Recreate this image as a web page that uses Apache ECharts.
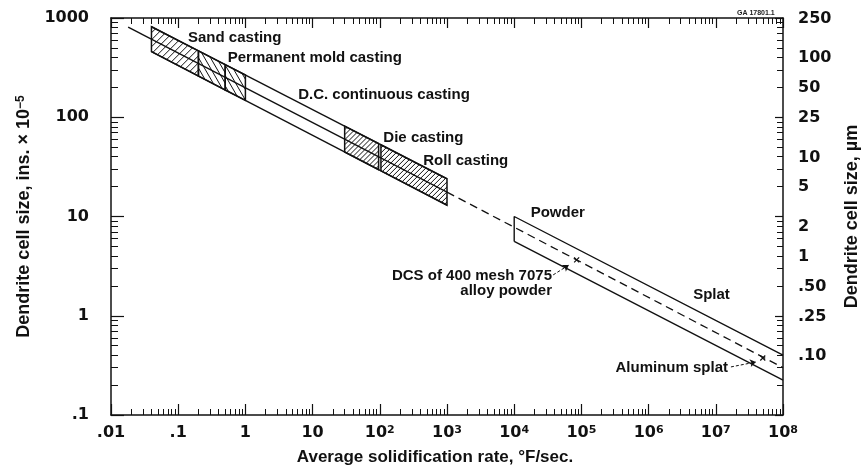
<!DOCTYPE html>
<html><head><meta charset="utf-8">
<script src="https://cdn.jsdelivr.net/npm/echarts@6/dist/echarts.min.js"></script>
<style>html,body{margin:0;padding:0;background:#fff}#c{width:862px;height:470px}</style>
</head><body><div id="c"></div>
<script>
// ---------------- data ----------------
const xTickValues = [0.01, 0.1, 1, 10, 100, 1000, 1e4, 1e5, 1e6, 1e7, 1e8];
const xTickLabels = ['.01', '.1', '1', '10', '10{s|2}', '10{s|3}', '10{s|4}', '10{s|5}', '10{s|6}', '10{s|7}', '10{s|8}'];
const yTickValues = [0.1, 1, 10, 100, 1000];
const yTickLabels = ['.1', '1', '10', '100', '1000'];
const umTickValues = [250, 100, 50, 25, 10, 5, 2, 1, 0.5, 0.25, 0.1];
const umTickLabels = ['250', '100', '50', '25', '10', '5', '2', '1', '.50', '.25', '.10'];

// band lines: [solidification rate °F/s, dendrite cell size ins x 1e-5]
const castTopX = [0.04, 1000];        const castTopY = [817, 24];
const castBotX = [0.04, 1000];        const castBotY = [458, 13];
const castMidX = [0.018, 1000];       const castMidY = [810, 17.6];
const trendDashX = [1000, 1e8];       const trendDashY = [17.6, 0.30];
const powderTopX = [1e4, 1e4, 1e8];   const powderTopY = [5.6, 10, 0.40];
const powderBotX = [1e4, 1e8];        const powderBotY = [5.6, 0.225];

// hatched process boxes
const boxNames = ['Sand casting', 'Permanent mold casting', 'Permanent mold casting', 'Die casting', 'Roll casting'];
const boxX0 = [0.04, 0.2, 0.5, 30, 104];
const boxX1 = [0.2, 0.5, 1, 96, 1000];
const boxTop0 = [817, 466, 339, 81.4, 52.8];
const boxTop1 = [466, 339, 266, 54.3, 24];
const boxBot0 = [458, 260, 188, 44.7, 28.8];
const boxBot1 = [260, 188, 148, 29.6, 13];

// measured points and leaders
const markX = [8.5e4, 5.0e7];     const markY = [3.65, 0.375];
const leaderX0 = [3.8e4, 1.68e7]; const leaderY0 = [2.58, 0.305];
const leaderX1 = [6.5e4, 3.96e7]; const leaderY1 = [3.24, 0.342];

// annotations
const noteLeftText = ['Sand casting', 'Permanent mold casting', 'D.C. continuous casting', 'Die casting', 'Roll casting', 'Powder', 'Splat'];
const noteLeftX = [0.14, 0.546, 6.1, 113, 443, 1.76e4, 4.6e6];
const noteLeftY = [628, 395, 167, 62, 36, 10.8, 1.62];
const noteRightText = ['DCS of 400 mesh 7075\nalloy powder', 'Aluminum splat'];
const noteRightX = [3.65e4, 1.52e7];
const noteRightY = [2.12, 0.296];

// minor tick values (2..9 per decade)
const minorX = [], minorY = [];
for (let e = -2; e < 8; e++) for (let k = 2; k <= 9; k++) minorX.push(+(k * Math.pow(10, e)).toPrecision(3));
for (let e = -1; e < 3; e++) for (let k = 2; k <= 9; k++) minorY.push(+(k * Math.pow(10, e)).toPrecision(3));

// ---------------- styles ----------------
const INK = '#111111';
const boxHatchAngle = [45, 120, 120, 45, 45];
const boxHatchStep = [7, 6, 6, 5, 5];
const tickFont = {fontFamily: 'DejaVu Sans', fontWeight: 'bold', fontSize: 16, color: INK};
const supStyle = {fontFamily: 'DejaVu Sans', fontWeight: 'bold', fontSize: 11, color: INK, verticalAlign: 'top'};
const noteFont = {fontFamily: 'Liberation Sans', fontWeight: 'bold', fontSize: 15, color: INK, opacity: 1};

function pair(xs, ys) { return xs.map((x, i) => [x, ys[i]]); }

function clipLine(p0, d, poly, c) {
  let t0 = -1e4, t1 = 1e4;
  for (let i = 0; i < poly.length; i++) {
    const a = poly[i], b = poly[(i + 1) % poly.length];
    let n = [-(b[1] - a[1]), b[0] - a[0]];
    if ((c[0] - a[0]) * n[0] + (c[1] - a[1]) * n[1] < 0) n = [-n[0], -n[1]];
    const num = (p0[0] - a[0]) * n[0] + (p0[1] - a[1]) * n[1];
    const den = d[0] * n[0] + d[1] * n[1];
    if (Math.abs(den) < 1e-9) { if (num < 0) return null; continue; }
    const t = -num / den;
    if (den > 0) t0 = Math.max(t0, t); else t1 = Math.min(t1, t);
  }
  if (t1 <= t0) return null;
  return [[p0[0] + d[0] * t0, p0[1] + d[1] * t0], [p0[0] + d[0] * t1, p0[1] + d[1] * t1]];
}

function renderBox(params, api) {
  const i = params.dataIndex;
  const tl = api.coord([api.value(0), api.value(2)]);
  const tr = api.coord([api.value(1), api.value(3)]);
  const br = api.coord([api.value(1), api.value(5)]);
  const bl = api.coord([api.value(0), api.value(4)]);
  const poly = [tl, tr, br, bl];
  const c = [(tl[0] + tr[0] + br[0] + bl[0]) / 4, (tl[1] + tr[1] + br[1] + bl[1]) / 4];
  const th = boxHatchAngle[i] * Math.PI / 180;
  const d = [Math.cos(th), -Math.sin(th)];
  const hs = boxHatchStep[i];
  const children = [];
  for (let k = -120; k <= 120; k++) {
    const seg = clipLine([c[0] + k * hs, c[1]], d, poly, c);
    if (!seg) continue;
    children.push({type: 'line', shape: {x1: seg[0][0], y1: seg[0][1], x2: seg[1][0], y2: seg[1][1]},
      style: {stroke: INK, lineWidth: 1}});
  }
  children.push({type: 'polygon', shape: {points: poly}, style: {fill: 'none', stroke: INK, lineWidth: 1.5}});
  return {type: 'group', children};
}

function findLabel(values, labels, v) {
  const i = values.findIndex(t => Math.abs(Math.log10(t) - Math.log10(v)) < 1e-6);
  return i >= 0 ? labels[i] : '';
}

const lineBase = {type: 'line', xAxisIndex: 0, yAxisIndex: 0, showSymbol: false, symbol: 'none',
  silent: true, lineStyle: {color: INK, width: 1.4}};

const baseAxis = {type: 'log', logBase: 10, splitLine: {show: false}, axisLine: {show: false},
  axisLabel: {show: false}, axisTick: {show: false}};

function ax(extra) { return Object.assign({}, JSON.parse(JSON.stringify(baseAxis)), extra); }

const chart = echarts.init(document.getElementById('c'), null, {renderer: 'canvas'});
chart.setOption({
  animation: false,
  backgroundColor: '#fff',
  grid: {left: 111, right: 79, top: 18, bottom: 55, containLabel: false, outerBoundsMode: 'none'},
  xAxis: [
    ax({position: 'bottom', min: 0.01, max: 1e8,
      axisLine: {show: true, lineStyle: {color: INK, width: 1.5}},
      axisTick: {show: true, inside: true, length: 11, customValues: xTickValues, lineStyle: {color: INK, width: 1.2}},
      axisLabel: Object.assign({show: true, margin: 10, customValues: xTickValues,
        formatter: v => findLabel(xTickValues, xTickLabels, v), rich: {s: supStyle}}, tickFont),
      name: 'Average solidification rate, °F/sec.', nameLocation: 'middle', nameGap: 34,
      nameTextStyle: {fontFamily: 'Liberation Sans', fontWeight: 'bold', fontSize: 17, color: INK, padding: [0, 24, 0, 0]}}),
    ax({position: 'bottom', min: 0.01, max: 1e8,
      axisTick: {show: true, inside: true, length: 6, customValues: minorX, lineStyle: {color: INK, width: 1}}}),
    ax({position: 'top', min: 0.01, max: 1e8,
      axisLine: {show: true, lineStyle: {color: INK, width: 1.5}},
      axisTick: {show: true, inside: true, length: 10, customValues: xTickValues, lineStyle: {color: INK, width: 1.2}}}),
    ax({position: 'top', min: 0.01, max: 1e8,
      axisTick: {show: true, inside: true, length: 6, customValues: minorX, lineStyle: {color: INK, width: 1}}})
  ],
  yAxis: [
    ax({position: 'left', min: 0.1, max: 1000,
      axisLine: {show: true, lineStyle: {color: INK, width: 1.5}},
      axisTick: {show: true, inside: true, length: 13, customValues: yTickValues, lineStyle: {color: INK, width: 1.2}},
      axisLabel: Object.assign({show: true, margin: 22, customValues: yTickValues,
        formatter: v => findLabel(yTickValues, yTickLabels, v)}, tickFont),
      name: 'Dendrite cell size, ins. × 10{s|−5}', nameLocation: 'middle', nameGap: 78,
      nameTextStyle: {fontFamily: 'Liberation Sans', fontWeight: 'bold', fontSize: 18, color: INK,
        rich: {s: {fontFamily: 'Liberation Sans', fontWeight: 'bold', fontSize: 12, color: INK, verticalAlign: 'top'}}}}),
    ax({position: 'left', min: 0.1, max: 1000,
      axisTick: {show: true, inside: true, length: 7, customValues: minorY, lineStyle: {color: INK, width: 1}}}),
    ax({position: 'right', min: 0.0254, max: 254,
      axisLine: {show: true, lineStyle: {color: INK, width: 1.5}},
      axisLabel: Object.assign({show: true, margin: 15, customValues: umTickValues,
        formatter: v => findLabel(umTickValues, umTickLabels, v)}, tickFont),
      name: 'Dendrite cell size, µm', nameLocation: 'middle', nameGap: 60,
      nameTextStyle: {fontFamily: 'Liberation Sans', fontWeight: 'bold', fontSize: 18, color: INK}}),
    ax({position: 'right', min: 0.1, max: 1000,
      axisTick: {show: true, inside: true, length: 8, customValues: yTickValues, lineStyle: {color: INK, width: 1.2}}}),
    ax({position: 'right', min: 0.1, max: 1000,
      axisTick: {show: true, inside: true, length: 6, customValues: minorY, lineStyle: {color: INK, width: 1}}})
  ],
  graphic: [{type: 'text', left: 737, top: 10,
    style: {text: 'GA 17801.1', font: 'bold 7px "Liberation Sans"', fill: '#222'}}],
  series: [
    {type: 'custom', name: 'process boxes', xAxisIndex: 0, yAxisIndex: 0, silent: true,
      renderItem: renderBox, encode: {x: [0, 1], y: [2, 3, 4, 5]},
      data: boxNames.map((n, i) => [boxX0[i], boxX1[i], boxTop0[i], boxTop1[i], boxBot0[i], boxBot1[i]])},
    Object.assign({}, lineBase, {name: 'casting upper', data: pair(castTopX, castTopY)}),
    Object.assign({}, lineBase, {name: 'casting lower', data: pair(castBotX, castBotY)}),
    Object.assign({}, lineBase, {name: 'casting trend', data: pair(castMidX, castMidY)}),
    Object.assign({}, lineBase, {name: 'trend extension', data: pair(trendDashX, trendDashY),
      lineStyle: {color: INK, width: 1.3, type: [8, 5]}}),
    Object.assign({}, lineBase, {name: 'powder upper', data: pair(powderTopX, powderTopY)}),
    Object.assign({}, lineBase, {name: 'powder lower', data: pair(powderBotX, powderBotY)}),
    {type: 'lines', coordinateSystem: 'cartesian2d', xAxisIndex: 0, yAxisIndex: 0, silent: true,
      symbol: ['none', 'arrow'], symbolSize: 6,
      lineStyle: {color: INK, width: 1, type: [3, 2], opacity: 1},
      data: leaderX0.map((x, i) => ({coords: [[x, leaderY0[i]], [leaderX1[i], leaderY1[i]]]}))},
    {type: 'scatter', name: 'measured', xAxisIndex: 0, yAxisIndex: 0, silent: true,
      symbol: 'path://M0,0L10,10M10,0L0,10', symbolSize: 5,
      itemStyle: {color: 'none', borderColor: INK, borderWidth: 1.2, opacity: 1},
      data: pair(markX, markY)},
    {type: 'scatter', name: 'notes-left', xAxisIndex: 0, yAxisIndex: 0, silent: true, symbolSize: 0,
      itemStyle: {opacity: 1},
      label: Object.assign({show: true, position: 'right', distance: 0, formatter: p => noteLeftText[p.dataIndex]}, noteFont),
      data: pair(noteLeftX, noteLeftY)},
    {type: 'scatter', name: 'notes-right', xAxisIndex: 0, yAxisIndex: 0, silent: true, symbolSize: 0,
      itemStyle: {opacity: 1},
      label: Object.assign({show: true, position: 'left', distance: 0, align: 'right', lineHeight: 15,
        formatter: p => noteRightText[p.dataIndex]}, noteFont),
      data: pair(noteRightX, noteRightY)}
  ]
});
</script></body></html>
